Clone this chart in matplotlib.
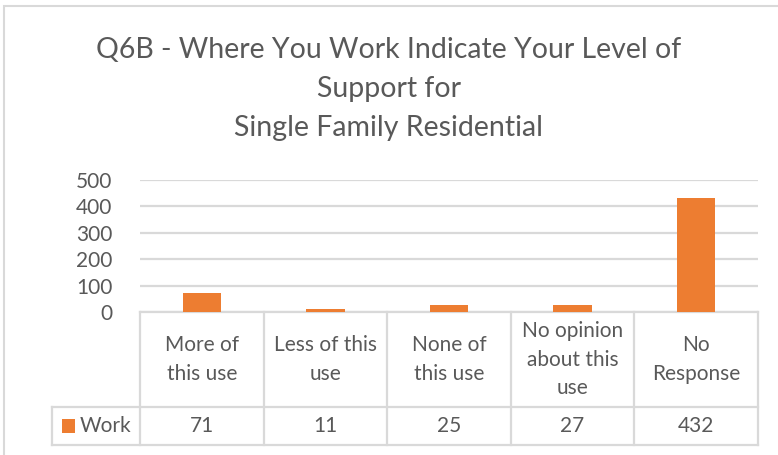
import matplotlib.pyplot as plt
from matplotlib.patches import Rectangle

plt.rcParams['font.family'] = ['Lato', 'DejaVu Sans']

categories = ["More of\nthis use", "Less of this\nuse", "None of\nthis use",
              "No opinion\nabout this\nuse", "No\nResponse"]
work = [71, 11, 25, 27, 432]
series_name = "Work"
yticks = [0, 100, 200, 300, 400, 500]
title = "Q6B - Where You Work Indicate Your Level of\nSupport for\nSingle Family Residential"

text_col = "#595959"
line_col = "#d9d9d9"
bar_col = "#ed7d31"

fig = plt.figure(figsize=(7.78, 4.55), dpi=100)
ax = fig.add_axes([140 / 778, 1 - 312 / 455, 618 / 778, 132 / 455])

n = len(categories)
ax.bar(range(n), work, width=0.31, color=bar_col, zorder=3)
ax.set_xlim(-0.5, n - 0.5)
ax.set_ylim(0, 500)
ax.set_yticks(yticks)
ax.set_yticklabels([str(t) for t in yticks], fontsize=15, color=text_col)
ax.tick_params(axis='y', length=0, pad=20)
ax.set_xticks([])
ax.grid(axis='y', color=line_col, linewidth=1.6, zorder=0)
for s in ['top', 'right', 'left', 'bottom']:
    ax.spines[s].set_visible(False)

# data table below the plot area (x in data units, y in axes fraction)
tr = ax.get_xaxis_transform()
row1 = -95 / 132
row2 = -133 / 132
head_left = -0.5 - 88 / 618 * n
kw = dict(color=line_col, linewidth=1.6, clip_on=False, zorder=1, transform=tr)
ax.plot([-0.5, n - 0.5], [0, 0], **kw)
ax.plot([head_left, n - 0.5], [row1, row1], **kw)
ax.plot([head_left, n - 0.5], [row2, row2], **kw)
ax.plot([head_left, head_left], [row1, row2], **kw)
for i in range(n + 1):
    ax.plot([i - 0.5, i - 0.5], [0, row2], **kw)

for i, (c, v) in enumerate(zip(categories, work)):
    ax.text(i, row1 / 2, c, ha='center', va='center', fontsize=15, color=text_col,
            linespacing=1.55, transform=tr)
    ax.text(i, (row1 + row2) / 2, str(v), ha='center', va='center', fontsize=15,
            color=text_col, transform=tr)

# legend key in the header cell
ax.add_patch(Rectangle((head_left + 0.08, (row1 + row2) / 2 - 0.055), 0.11, 0.11,
                       facecolor=bar_col, edgecolor='none', clip_on=False, transform=tr))
ax.text(head_left + 0.22, (row1 + row2) / 2, series_name, ha='left', va='center',
        fontsize=15, color=text_col, transform=tr)

fig.text(0.5, 1 - 89 / 455, title, ha='center', va='center', fontsize=20.5,
         color=text_col, linespacing=1.6)

# chart border
fig.patches.append(Rectangle((4 / 778, -0.1), 1.2, 1 - 6 / 455 + 0.1, transform=fig.transFigure,
                             facecolor='none', edgecolor=line_col, linewidth=1.5))

fig.savefig("out.png", dpi=100)
